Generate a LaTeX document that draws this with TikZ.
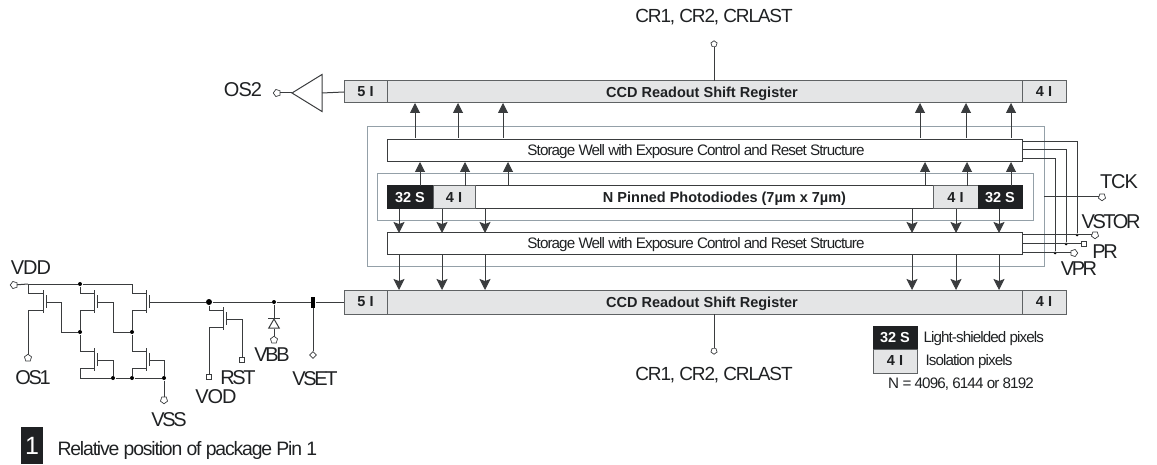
\documentclass[tikz,border=0pt]{standalone}
\usepackage{fontspec}
\setmainfont{Liberation Sans}
\newfontfamily\tightfont[LetterSpace=-6]{Liberation Sans}
\newfontfamily\labfont[LetterSpace=-12]{Liberation Sans}
\newfontfamily\widefont[LetterSpace=-5]{Liberation Sans}
\usetikzlibrary{arrows.meta,shapes.geometric}
\definecolor{cellgray}{HTML}{E4E5E6}
\definecolor{cellblack}{HTML}{1F2123}
\definecolor{edgegray}{HTML}{5F6264}
\definecolor{wellgray}{HTML}{94A0A8}
\definecolor{wiregray}{HTML}{3A3C3E}
\begin{document}
\begin{tikzpicture}
  [x=1pt,y=-1pt,line width=1pt,draw=wiregray,
   cell/.style={rectangle,draw=edgegray,fill=cellgray,inner sep=0,outer sep=0,text=cellblack,text depth=0pt,font=\fontsize{14.5}{15}\selectfont\bfseries},
   darkcell/.style={cell,draw=cellblack,fill=cellblack,text=white},
   plain/.style={cell,fill=white,draw=wiregray},
   well/.style={rectangle,draw=wellgray,inner sep=0,outer sep=0},
   pin/.style={regular polygon,regular polygon sides=5,draw=wiregray,fill=white,inner sep=0,outer sep=0,minimum size=7.5pt,line width=.7pt},
   lab/.style={text=cellblack,inner sep=0,text depth=0pt,font=\labfont\fontsize{20}{20}\selectfont},
   widelab/.style={text=cellblack,inner sep=0,text depth=0pt,font=\widefont\fontsize{20}{20}\selectfont},
   crlab/.style={text=cellblack,inner sep=0,text depth=0pt,font=\tightfont\fontsize{19}{19}\selectfont},
   small/.style={text=cellblack,inner sep=0,text depth=0pt,font=\tightfont\fontsize{15.2}{16}\selectfont},
   welltxt/.style={small},
   dot/.style={circle,fill=black,inner sep=0,minimum size=4pt},
   upto/.style={-{Triangle[length=10pt,width=10pt]}},
   downto/.style={-{Stealth[length=11pt,width=11pt,inset=2pt]}}]
  \useasboundingbox (0,0) rectangle (1157,465);

  \node[well,minimum width=677pt,minimum height=140pt] (outerwell) at (705.5,197) {};
  \node[well,minimum width=656pt,minimum height=47pt] (innerwell) at (705,197.5) {};

  \node[cell,minimum width=722pt,minimum height=22pt] (topreg) at (705,92) {};
  \node[cell,minimum width=43pt,minimum height=22pt] (topa) at (365.5,92) {5 I};
  \node[cell,minimum width=44pt,minimum height=22pt] (topb) at (1044,92) {4 I};
  \node[cell,minimum width=722pt,minimum height=24pt] (lowreg) at (705,302) {};
  \node[cell,minimum width=43pt,minimum height=24pt] (lowa) at (365.5,302) {5 I};
  \node[cell,minimum width=44pt,minimum height=24pt] (lowb) at (1044,302) {4 I};
  \node[cell,draw=none,fill=none] (toptxt) at (702,92) {CCD Readout Shift Register};
  \node[cell,draw=none,fill=none] (lowtxt) at (702,302) {CCD Readout Shift Register};

  \node[plain,minimum width=635pt,minimum height=22pt] (upstore) at (704.5,151) {};
  \node[plain,minimum width=635pt,minimum height=22pt] (lowstore) at (704.5,244) {};
  \node[plain,minimum width=635pt,minimum height=23pt] (row) at (704.5,197.5) {};
  \node[welltxt] (uptxt) at (696,150) {Storage Well with Exposure Control and Reset Structure};
  \node[welltxt] (lowsttxt) at (696,243) {Storage Well with Exposure Control and Reset Structure};
  \node[cell,draw=none,fill=none] (rowtxt) at (724.5,197) {N Pinned Photodiodes (7µm x 7µm)};
  \node[darkcell,minimum width=46pt,minimum height=23pt] (rowa) at (410,197.5) {32 S};
  \node[cell,minimum width=42pt,minimum height=23pt] (rowb) at (454,197.5) {4 I};
  \node[cell,minimum width=45pt,minimum height=23pt] (rowc) at (955.5,197.5) {4 I};
  \node[darkcell,minimum width=44pt,minimum height=23pt] (rowd) at (1000,197.5) {32 S};

  \foreach \x in {415,458,503,920,966,1011}
    \draw[upto] (\x,138) -- (\x,0 |- topreg.south);
  \foreach \x in {420,465,508,925,967,1011}
    \draw[upto] (\x,0 |- row.north) -- (\x,0 |- upstore.south);
  \foreach \x in {399,442,485,912,956,999}
    \draw[downto] (\x,0 |- row.south) -- (\x,0 |- lowstore.north);
  \foreach \x in {399,442,485,912,956,999}
    \draw[downto] (\x,0 |- lowstore.south) -- (\x,0 |- lowreg.north);

  % right side clocks
  \coordinate (ua) at (1022,142);
  \coordinate (ub) at (1022,150);
  \coordinate (uc) at (1022,159);
  \coordinate (la) at (1022,235);
  \coordinate (lb) at (1022,244);
  \coordinate (lc) at (1022,253);
  \node[dot,minimum size=3pt] (da) at (1077,235) {};
  \node[dot,minimum size=3pt] (db) at (1066,244) {};
  \node[dot,minimum size=3pt] (dc) at (1055,253) {};
  \node[pin,shape border rotate=180] (vstor) at (1095,235) {};
  \node[pin,regular polygon sides=4] (pr) at (1084,244) {};
  \node[pin,shape border rotate=-90] (vpr) at (1074,253) {};
  \node[pin,shape border rotate=180] (tck) at (1102,197) {};
  \node[widelab] (tcktxt) at (1119,182) {TCK};
  \node[lab] (vstortxt) at (1111,222) {VSTOR};
  \node[lab] (prtxt) at (1105,252) {PR};
  \node[lab] (vprtxt) at (1079,269) {VPR};
  \foreach \from/\to in {ua/da,ub/db,uc/dc}
    \draw (\from) -| (\to);
  \foreach \from/\to in {la/vstor,lb/pr,lc/vpr,outerwell.east/tck}
    \draw (\from) -- (\to);

  % top and bottom clocks
  \node[pin,minimum size=6.5pt] (crtop) at (714,44) {};
  \node[pin,shape border rotate=180,minimum size=6.5pt] (crlow) at (714,351) {};
  \node[crlab] (crtoptxt) at (714,16) {CR1, CR2, CRLAST};
  \node[crlab] (crlowtxt) at (714,374) {CR1, CR2, CRLAST};
  \draw (crtop) -- (crtop |- topreg.north);
  \draw (crlow) -- (crlow |- lowreg.south);

  % output amplifier
  \node[pin,shape border rotate=90] (os2) at (277,93) {};
  \node[isosceles triangle,isosceles triangle apex angle=64,isosceles triangle stretches,draw=wiregray,inner sep=0,outer sep=0,shape border rotate=180,minimum height=30pt,minimum width=37pt,anchor=apex] (amp) at (292,93) {};
  \node[widelab] (os2txt) at (243,90) {OS2};
  \draw (os2) -- (amp.apex);
  \draw (amp.lower side) -- (topa.west);

  % output stages
  \foreach \n/\x/\y in {qa/43/290,qb/94/290,qc/146/290,qd/94/348,qe/146/348,qf/223/307} {
    \draw (\x,\y) -- (\x,\y+23);
    \draw (\x+3,\y+5) -- (\x+3,\y+18);
    \coordinate (\n d) at (\x,\y+3);
    \coordinate (\n s) at (\x,\y+20);
    \coordinate (\n g) at (\x+3,\y+12);
  }
  \node[pin,shape border rotate=90] (vdd) at (14,285) {};
  \node[pin] (os1) at (28,358) {};
  \node[pin,shape border rotate=180] (vss) at (164,400) {};
  \node[pin,regular polygon sides=4,minimum size=7.5pt] (vod) at (209,377) {};
  \node[pin,regular polygon sides=4,minimum size=7.5pt] (rst) at (242,360) {};
  \node[pin] (vbb) at (274,340) {};
  \node[diamond,draw=wiregray,fill=white,inner sep=0,minimum size=7pt,line width=.7pt] (vset) at (313,355) {};
  \node[regular polygon,regular polygon sides=3,draw=wiregray,inner sep=0,minimum size=12pt] (diode) at (274,325) {};
  \node[fill=black,inner sep=0,minimum width=4pt,minimum height=11pt] (setmark) at (313,302) {};

  \coordinate (ca) at (28,284);
  \coordinate (cb) at (132,284);
  \coordinate (cc) at (80,378);
  \coordinate (ka) at (61,332);
  \coordinate (kb) at (113,332);
  \node[dot] (ja) at (80,284) {};
  \node[dot] (jb) at (80,332) {};
  \node[dot] (jc) at (132,332) {};
  \node[dot] (jd) at (113,378) {};
  \node[dot] (je) at (132,378) {};
  \node[dot] (jf) at (164,378) {};
  \node[dot,minimum size=6pt] (jg) at (209,302) {};
  \node[dot] (jh) at (274,302) {};

  \foreach \from/\to in {vdd/ca,ca/ja,ja/cb,cc/jd,jd/je,je/jf,jf/vss,qcg/jg,jg/jh,jh/setmark,setmark/lowa.west,setmark/vset,ka/jb,kb/jc,diode.south/vbb,jh/diode.corner 1}
    \draw (\from) -- (\to);
  \foreach \from/\to in {qad/ca,qbd/ja,qcd/cb,qas/os1,qag/ka,qbg/kb,qbs/jb,qdd/jb,qcs/jc,qed/jc,qdg/jd,qds/cc,qes/je,qeg/jf,qfd/jg,qfs/vod,qfg/rst}
    \draw (\from) -| (\to);
  \draw ([xshift=-6pt]diode.corner 1) -- ([xshift=6pt]diode.corner 1);

  \node[widelab] (vddtxt) at (31,268) {VDD};
  \node[lab] (os1txt) at (33,378) {OS1};
  \node[lab] (vsstxt) at (169,420) {VSS};
  \node[widelab] (vodtxt) at (216,397) {VOD};
  \node[lab] (rsttxt) at (238,378) {RST};
  \node[lab] (vbbtxt) at (272,355) {VBB};
  \node[lab] (vsettxt) at (315,379) {VSET};

  % legend
  \node[darkcell,minimum width=44pt,minimum height=23pt] (keya) at (895,337.5) {32 S};
  \node[cell,minimum width=44pt,minimum height=24pt] (keyb) at (895,361) {4 I};
  \node[small,anchor=west] (keyatxt) at (923,337) {Light-shielded pixels};
  \node[small,anchor=west] (keybtxt) at (925,360) {Isolation pixels};
  \node[small] (keyn) at (961,383) {N = 4096, 6144 or 8192};
  \node[fill=cellblack,text=white,inner sep=0,minimum width=22pt,minimum height=37pt,font=\fontsize{25}{25}\selectfont] (pinone) at (32,445.5) {1};
  \node[small,anchor=west,font=\tightfont\fontsize{19.4}{20}\selectfont] (pinonetxt) at (57,448) {Relative position of package Pin 1};
\end{tikzpicture}
\end{document}
